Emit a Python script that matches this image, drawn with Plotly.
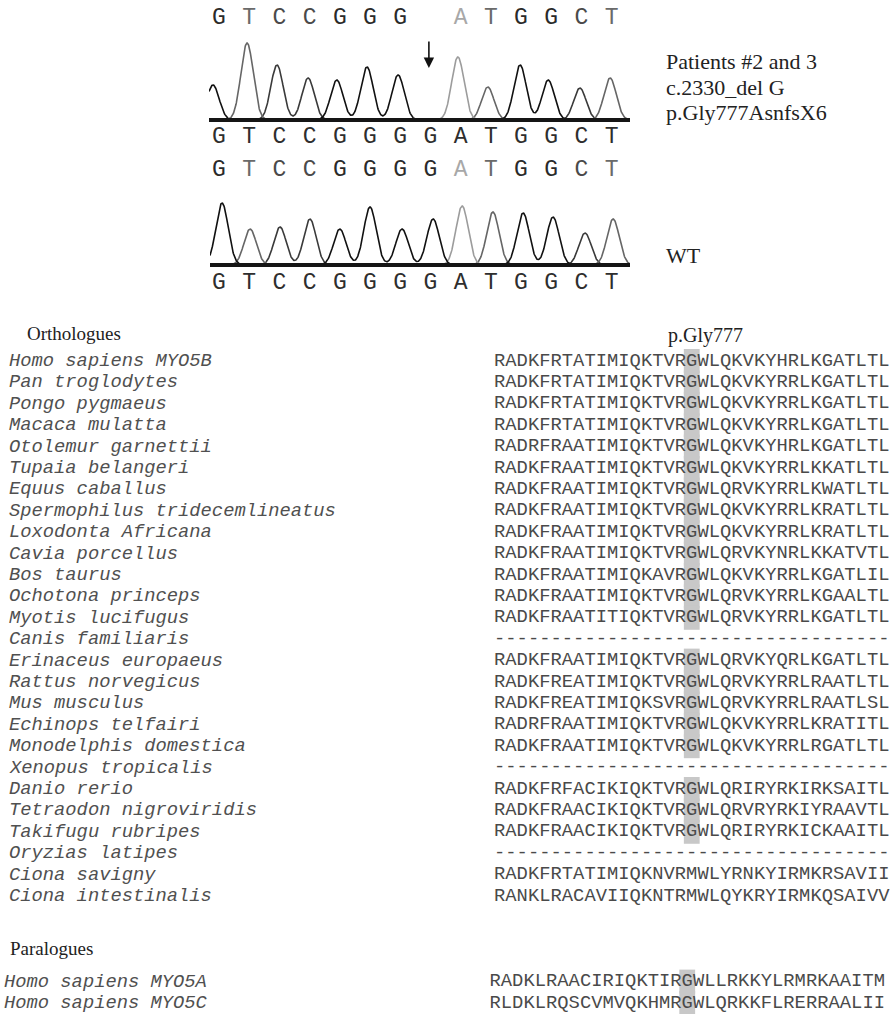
import numpy as np
import plotly.graph_objects as go

W, H = 895, 1014

# ---------------- data ----------------
REF_SEQ = list("GTCCGGGGATGGCT")           # base calls under both traces / WT top
MUT_CALLS = list("GTCCGGG ATGGCT")         # patient top base calls (blank = deleted G)
DELETED_INDEX = 7

MUT_PEAK_BASE = list("GTCCGGGATGGCT")
MUT_PEAK_POS = [-0.2, 0.93, 1.92, 2.95, 3.9, 4.9, 5.93, 7.91, 8.9, 9.97, 10.9, 11.95, 12.95]
MUT_PEAK_HEIGHT = [35, 77, 55, 42, 40, 53, 45, 63, 33, 55, 40, 32, 42]

WT_PEAK_BASE = list("GTCCGGGGATGGCT")
WT_PEAK_POS = [0.1, 1.03, 2.02, 3.01, 4.0, 5.0, 6.06, 7.09, 8.05, 9.07, 10.07, 11.06, 12.12, 13.05]
WT_PEAK_HEIGHT = [62, 36, 38, 46, 36, 58, 36, 46, 59, 53, 52, 48, 32, 46]

MUT_LABELS = ["Patients #2 and 3", "c.2330_del G", "p.Gly777AsnfsX6"]
WT_LABEL = "WT"

ORTHOLOGUE_NAMES = [
    "Homo sapiens MYO5B", "Pan troglodytes", "Pongo pygmaeus", "Macaca mulatta",
    "Otolemur garnettii", "Tupaia belangeri", "Equus caballus",
    "Spermophilus tridecemlineatus", "Loxodonta Africana", "Cavia porcellus",
    "Bos taurus", "Ochotona princeps", "Myotis lucifugus", "Canis familiaris",
    "Erinaceus europaeus", "Rattus norvegicus", "Mus musculus", "Echinops telfairi",
    "Monodelphis domestica", "Xenopus tropicalis", "Danio rerio",
    "Tetraodon nigroviridis", "Takifugu rubripes", "Oryzias latipes",
    "Ciona savigny", "Ciona intestinalis",
]
GAP = "-" * 35
ORTHOLOGUE_SEQS = [
    "RADKFRTATIMIQKTVRGWLQKVKYHRLKGATLTL",
    "RADKFRTATIMIQKTVRGWLQKVKYRRLKGATLTL",
    "RADKFRTATIMIQKTVRGWLQKVKYRRLKGATLTL",
    "RADKFRTATIMIQKTVRGWLQKVKYRRLKGATLTL",
    "RADRFRAATIMIQKTVRGWLQKVKYHRLKGATLTL",
    "RADKFRAATIMIQKTVRGWLQKVKYRRLKKATLTL",
    "RADKFRAATIMIQKTVRGWLQRVKYRRLKWATLTL",
    "RADKFRAATIMIQKTVRGWLQKVKYRRLKRATLTL",
    "RADKFRAATIMIQKTVRGWLQKVKYRRLKRATLTL",
    "RADKFRAATIMIQKTVRGWLQRVKYNRLKKATVTL",
    "RADKFRAATIMIQKAVRGWLQKVKYRRLKGATLIL",
    "RADKFRAATIMIQKTVRGWLQRVKYRRLKGAALTL",
    "RADKFRAATITIQKTVRGWLQRVKYRRLKGATLTL",
    GAP,
    "RADKFRAATIMIQKTVRGWLQRVKYQRLKGATLTL",
    "RADKFREATIMIQKTVRGWLQRVKYRRLRAATLTL",
    "RADKFREATIMIQKSVRGWLQRVKYRRLRAATLSL",
    "RADRFRAATIMIQKTVRGWLQKVKYRRLKRATITL",
    "RADKFRAATIMIQKTVRGWLQKVKYRRLRGATLTL",
    GAP,
    "RADKFRFACIKIQKTVRGWLQRIRYRKIRKSAITL",
    "RADKFRAACIKIQKTVRGWLQRVRYRKIYRAAVTL",
    "RADKFRAACIKIQKTVRGWLQRIRYRKICKAAITL",
    GAP,
    "RADKFRTATIMIQKNVRMWLYRNKYIRMKRSAVII",
    "RANKLRACAVIIQKNTRMWLQYKRYIRMKQSAIVV",
]
PARALOGUE_NAMES = ["Homo sapiens MYO5A", "Homo sapiens MYO5C"]
PARALOGUE_SEQS = [
    "RADKLRAACIRIQKTIRGWLLRKKYLRMRKAAITM",
    "RLDKLRQSCVMVQKHMRGWLQRKKFLRERRAALII",
]
SITE_INDEX = 17          # p.Gly777 column
SITE_LABEL = "p.Gly777"

# ---------------- layout constants ----------------
MONO = "Liberation Mono"
SERIF = "Liberation Serif"
BASE_X0, BASE_STEP = 219.0, 30.2      # px of base index 0 and spacing
SIG = 0.205
PEAK_COL = {"G": "#111111", "C": "#3a3a3a", "T": "#666666", "A": "#9c9c9c"}
CALL_COL = {"G": "#2a2a2a", "C": "#4a4a4a", "T": "#6a6a6a", "A": "#a8a8a8"}

CHAR_W = 11.3
SEQ_X0 = 494.0
ROW0_Y, ROW_H = 361.0, 21.4
ORTHO_ROW0 = 0
PARA_ROW0 = 29
PARA_SHIFT = -0.4


def fx(p):
    return p / W


def fy(p):
    return 1 - p / H


def base_range(px0, px1):
    return [(px0 - BASE_X0) / BASE_STEP, (px1 - BASE_X0) / BASE_STEP]


fig = go.Figure()


def add_chromatogram(xa, ya, xr, bases, pos, hts):
    xs = np.linspace(xr[0], xr[1], 1200)
    for b in ["C", "T", "A", "G"]:
        ys = np.zeros_like(xs)
        found = False
        for bb, p, h in zip(bases, pos, hts):
            if bb == b:
                found = True
                ys += h * np.exp(-0.5 * ((xs - p) / SIG) ** 2)
        if found:
            fig.add_trace(go.Scatter(x=xs, y=ys, mode="lines", xaxis=xa, yaxis=ya,
                                     line=dict(color=PEAK_COL[b], width=1.6),
                                     hoverinfo="skip", showlegend=False))


def add_calls(xa, ya, letters, yval, colored):
    idx = [i for i, c in enumerate(letters) if c.strip()]
    txt = [letters[i] for i in idx]
    cols = [CALL_COL[c] if colored else "#2e2e2e" for c in txt]
    fig.add_trace(go.Scatter(x=idx, y=[yval] * len(idx), mode="text", text=txt,
                             textposition="middle center", xaxis=xa, yaxis=ya,
                             textfont=dict(family=MONO, size=23, color=cols),
                             cliponaxis=False, hoverinfo="skip", showlegend=False))


# mutant chromatogram (x / y): 1 unit = 1 px, baseline at px 120
mut_xr = base_range(209, 630)
add_chromatogram("x", "y", mut_xr, MUT_PEAK_BASE, MUT_PEAK_POS, MUT_PEAK_HEIGHT)
add_calls("x", "y", MUT_CALLS, 102, True)
add_calls("x", "y", REF_SEQ, -17, False)

# WT chromatogram (x2 / y2): baseline at px 265
wt_xr = base_range(210, 630)
add_chromatogram("x2", "y2", wt_xr, WT_PEAK_BASE, WT_PEAK_POS, WT_PEAK_HEIGHT)
add_calls("x2", "y2", REF_SEQ, 95, True)
add_calls("x2", "y2", REF_SEQ, -18, False)

# alignment (x3 / y3)
rows = []
for k, (n, s) in enumerate(zip(ORTHOLOGUE_NAMES, ORTHOLOGUE_SEQS)):
    rows.append((ORTHO_ROW0 + k, n, s, 0.0, 8))
for k, (n, s) in enumerate(zip(PARALOGUE_NAMES, PARALOGUE_SEQS)):
    rows.append((PARA_ROW0 + k, n, s, PARA_SHIFT, 3))

shapes = []
for r, n, s, sh, _ in rows:
    if s[SITE_INDEX] == "G":
        cx = SITE_INDEX + 0.5 + sh
        shapes.append(dict(type="rect", xref="x3", yref="y3", x0=cx - 0.7, x1=cx + 0.7,
                           y0=r - 0.56, y1=r + 0.56, fillcolor="#c8c8c8",
                           line=dict(width=0), layer="below"))

cx_all, cy_all, ct_all = [], [], []
for r, n, s, sh, _ in rows:
    for i, ch in enumerate(s):
        cx_all.append(i + 0.5 + sh)
        cy_all.append(r)
        ct_all.append(ch)
fig.add_trace(go.Scatter(x=cx_all, y=cy_all, text=ct_all, mode="text", xaxis="x3", yaxis="y3",
                         textposition="middle center",
                         textfont=dict(family=MONO, size=18.8, color="#4a4a4a"),
                         cliponaxis=False, hoverinfo="skip", showlegend=False))

annotations = []
for r, n, s, sh, xpx in rows:
    annotations.append(dict(text="<i>" + n + "</i>", xref="paper", yref="y3", x=fx(xpx), y=r,
                            xanchor="left", yanchor="middle", showarrow=False, borderpad=0,
                            font=dict(family=MONO, size=18.8, color="#505050")))

annotations += [
    dict(text="Orthologues", xref="paper", yref="paper", x=fx(26), y=fy(333), xanchor="left",
         yanchor="middle", showarrow=False, borderpad=0, font=dict(family=SERIF, size=19, color="#222")),
    dict(text="Paralogues", xref="paper", yref="paper", x=fx(9), y=fy(948), xanchor="left",
         yanchor="middle", showarrow=False, borderpad=0, font=dict(family=SERIF, size=19, color="#222")),
    dict(text=SITE_LABEL, xref="paper", yref="paper", x=fx(705), y=fy(335), xanchor="center",
         yanchor="middle", showarrow=False, borderpad=0, font=dict(family=SERIF, size=20, color="#222")),
]
for k, t in enumerate(MUT_LABELS):
    annotations.append(dict(text=t, xref="paper", yref="paper", x=fx(665), y=fy(62 + 25 * k),
                            xanchor="left", yanchor="middle", showarrow=False, borderpad=0,
                            font=dict(family=SERIF, size=22, color="#222")))
annotations.append(dict(text=WT_LABEL, xref="paper", yref="paper", x=fx(665), y=fy(255),
                        xanchor="left", yanchor="middle", showarrow=False, borderpad=0,
                        font=dict(family=SERIF, size=22, color="#222")))
# arrow at deleted base
annotations.append(dict(text="", xref="x", yref="y", x=DELETED_INDEX - 0.05, y=52, ax=0, ay=-28,
                        showarrow=True, arrowhead=2, arrowsize=1.3, arrowwidth=1.6,
                        arrowcolor="#111"))

# thick baselines
for xa, ya in [("x", "y"), ("x2", "y2")]:
    shapes.append(dict(type="line", xref=xa + " domain", yref=ya, x0=0, x1=1, y0=0, y1=0,
                       line=dict(color="#151515", width=4), layer="above"))

ax_common = dict(visible=False, showgrid=False, zeroline=False, fixedrange=True)
fig.update_layout(
    width=W, height=H, margin=dict(l=0, r=0, t=0, b=0),
    paper_bgcolor="white", plot_bgcolor="rgba(0,0,0,0)", showlegend=False,
    xaxis=dict(domain=[fx(209), fx(630)], range=mut_xr, anchor="y", **ax_common),
    yaxis=dict(domain=[fy(150), fy(3)], range=[-30, 117], anchor="x", **ax_common),
    xaxis2=dict(domain=[fx(210), fx(630)], range=wt_xr, anchor="y2", **ax_common),
    yaxis2=dict(domain=[fy(300), fy(155)], range=[-35, 110], anchor="x2", **ax_common),
    xaxis3=dict(domain=[fx(SEQ_X0), fx(SEQ_X0 + 35 * CHAR_W)], range=[0, 35], anchor="y3", **ax_common),
    yaxis3=dict(domain=[0, fy(340)], range=[(H - ROW0_Y) / ROW_H, (340 - ROW0_Y) / ROW_H],
                anchor="x3", **ax_common),
    shapes=shapes, annotations=annotations,
)

fig.write_html("out.html")
